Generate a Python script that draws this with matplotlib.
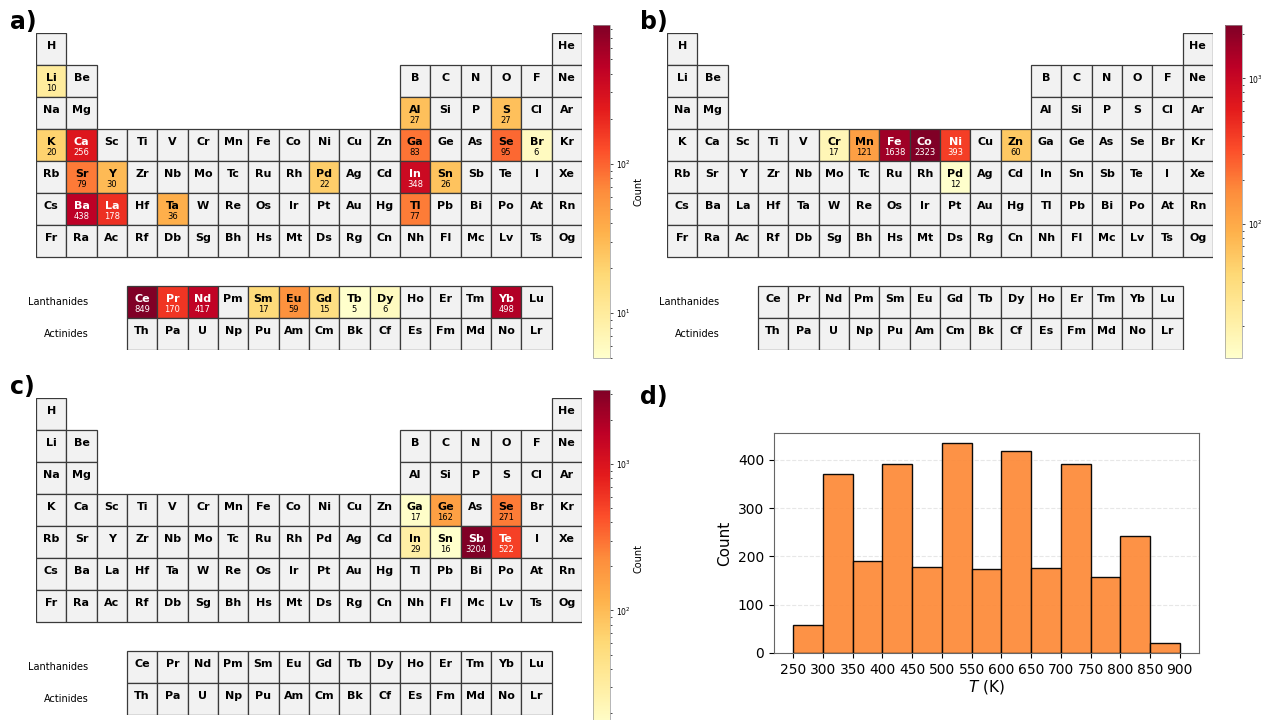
import numpy as np
import matplotlib
matplotlib.use('Agg')
import matplotlib.pyplot as plt
from matplotlib.colors import LogNorm
from matplotlib.patches import Rectangle

# periodic table layout rows
main_rows = [
    ['H'] + [None] * 16 + ['He'],
    ['Li', 'Be'] + [None] * 10 + ['B', 'C', 'N', 'O', 'F', 'Ne'],
    ['Na', 'Mg'] + [None] * 10 + ['Al', 'Si', 'P', 'S', 'Cl', 'Ar'],
    ['K', 'Ca', 'Sc', 'Ti', 'V', 'Cr', 'Mn', 'Fe', 'Co', 'Ni', 'Cu', 'Zn', 'Ga', 'Ge', 'As', 'Se', 'Br', 'Kr'],
    ['Rb', 'Sr', 'Y', 'Zr', 'Nb', 'Mo', 'Tc', 'Ru', 'Rh', 'Pd', 'Ag', 'Cd', 'In', 'Sn', 'Sb', 'Te', 'I', 'Xe'],
    ['Cs', 'Ba', 'La', 'Hf', 'Ta', 'W', 'Re', 'Os', 'Ir', 'Pt', 'Au', 'Hg', 'Tl', 'Pb', 'Bi', 'Po', 'At', 'Rn'],
    ['Fr', 'Ra', 'Ac', 'Rf', 'Db', 'Sg', 'Bh', 'Hs', 'Mt', 'Ds', 'Rg', 'Cn', 'Nh', 'Fl', 'Mc', 'Lv', 'Ts', 'Og'],
]
lanthanides = ['Ce', 'Pr', 'Nd', 'Pm', 'Sm', 'Eu', 'Gd', 'Tb', 'Dy', 'Ho', 'Er', 'Tm', 'Yb', 'Lu']
actinides = ['Th', 'Pa', 'U', 'Np', 'Pu', 'Am', 'Cm', 'Bk', 'Cf', 'Es', 'Fm', 'Md', 'No', 'Lr']

counts_a = {'Li': 10, 'K': 20, 'Ca': 256, 'Sr': 79, 'Y': 30, 'Ba': 438, 'La': 178, 'Ta': 36,
            'Al': 27, 'S': 27, 'Ga': 83, 'Se': 95, 'Br': 6, 'Pd': 22, 'In': 348, 'Sn': 26,
            'Tl': 77, 'Ce': 849, 'Pr': 170, 'Nd': 417, 'Sm': 17, 'Eu': 59, 'Gd': 15, 'Tb': 5,
            'Dy': 6, 'Yb': 498}
counts_b = {'Cr': 17, 'Mn': 121, 'Fe': 1638, 'Co': 2323, 'Ni': 393, 'Zn': 60, 'Pd': 12}
counts_c = {'Ga': 17, 'Ge': 162, 'Se': 271, 'In': 29, 'Sn': 16, 'Sb': 3204, 'Te': 522}

# histogram of temperatures
t_edges = [250, 300, 350, 400, 450, 500, 550, 600, 650, 700, 750, 800, 850, 900]
t_counts = [58, 370, 191, 391, 178, 434, 175, 419, 176, 392, 158, 242, 20]

W, H = 1265, 720
cmap = plt.get_cmap('YlOrRd')


def px_axes(fig, x0, y0, x1, y1):
    return fig.add_axes([x0 / W, 1 - y1 / H, (x1 - x0) / W, (y1 - y0) / H])


def positions():
    out = []
    for r, row in enumerate(main_rows):
        for c, el in enumerate(row):
            if el is not None:
                out.append((el, c, r))
    for i, el in enumerate(lanthanides):
        out.append((el, 3 + i, 7.9))
    for i, el in enumerate(actinides):
        out.append((el, 3 + i, 8.9))
    return out


def draw_table(fig, box, cbox, counts):
    ax = px_axes(fig, *box)
    vals = list(counts.values())
    norm = LogNorm(vmin=min(vals), vmax=max(vals))
    for el, c, r in positions():
        if el in counts:
            v = counts[el]
            fc = cmap(norm(v))
            tc = 'white' if norm(v) > 0.6 else 'black'
        else:
            v = None
            fc = '#f2f2f2'
            tc = 'black'
        ax.add_patch(Rectangle((c, r), 1, 1, facecolor=fc, edgecolor='#3a3a3a', lw=0.9))
        ax.text(c + 0.5, r + 0.4, el, ha='center', va='center', fontsize=8,
                fontweight='bold', color=tc)
        if v is not None:
            ax.text(c + 0.5, r + 0.72, str(v), ha='center', va='center', fontsize=6, color=tc)
    ax.text(1.72, 8.4, 'Lanthanides', ha='right', va='center', fontsize=7)
    ax.text(1.72, 9.4, 'Actinides', ha='right', va='center', fontsize=7)
    ax.set_xlim(0, 18)
    ax.set_ylim(9.9, 0)
    ax.axis('off')

    cax = px_axes(fig, *cbox)
    sm = plt.cm.ScalarMappable(norm=norm, cmap=cmap)
    cb = fig.colorbar(sm, cax=cax)
    cb.set_label('Count', fontsize=7, labelpad=2)
    cb.ax.tick_params(labelsize=5.5, width=0.5, length=2.5, pad=1.5)
    cb.ax.tick_params(which='minor', width=0.5, length=1.5)
    cb.outline.set_linewidth(0.5)
    cb.outline.set_edgecolor('#999999')
    return ax


fig = plt.figure(figsize=(W / 100, H / 100), dpi=100)

draw_table(fig, (36, 33, 582, 350), (593, 25, 610, 358), counts_a)
draw_table(fig, (667, 33, 1213, 350), (1225, 25, 1242, 358), counts_b)
draw_table(fig, (36, 398, 582, 715), (593, 390, 610, 727), counts_c)

axd = px_axes(fig, 774, 433, 1199, 653)
axd.hist(t_edges[:-1], bins=t_edges, weights=t_counts, color=cmap(0.5),
         edgecolor='black', linewidth=1, alpha=0.95)
axd.set_xticks(t_edges)
axd.tick_params(labelsize=10)
axd.set_xlabel('$T$ (K)', fontsize=11, labelpad=1)
axd.set_ylabel('Count', fontsize=11)
axd.grid(axis='y', linestyle='--', alpha=0.3)
axd.set_axisbelow(True)
for s in axd.spines.values():
    s.set_edgecolor('#666666')

for lbl, x, y in [('a)', 10, 22), ('b)', 640, 22), ('c)', 10, 387), ('d)', 640, 397)]:
    fig.text(x / W, 1 - y / H, lbl, fontsize=17, fontweight='bold', ha='left', va='center')

fig.savefig('out.png', dpi=100)
